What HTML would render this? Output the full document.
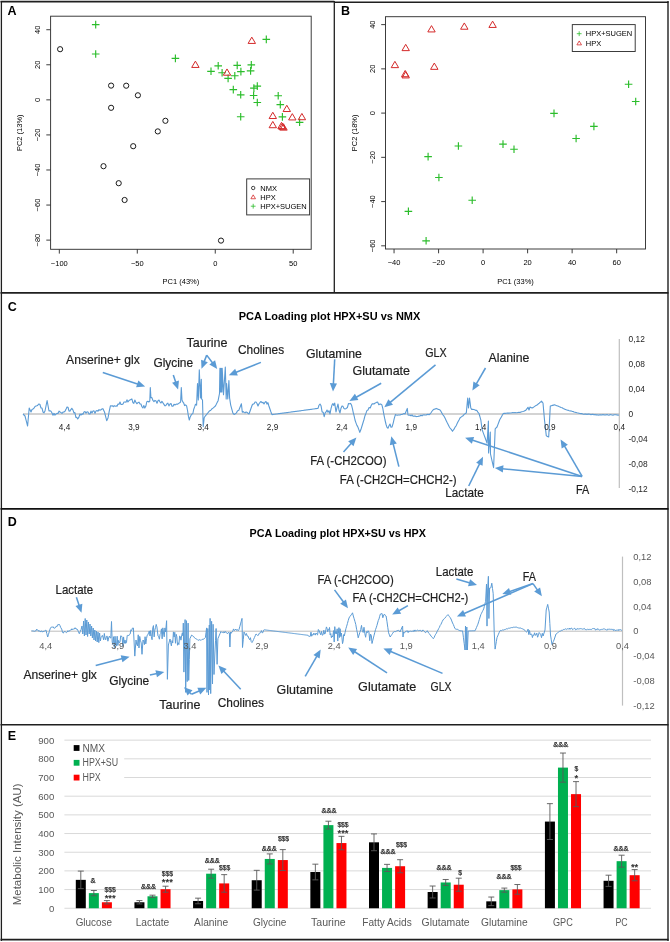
<!DOCTYPE html>
<html><head><meta charset="utf-8"><title>Figure</title>
<style>html,body{margin:0;padding:0;background:#fff;}svg{display:block;}text{font-family:"Liberation Sans", Arial, sans-serif;}</style>
</head><body>
<svg width="670" height="942" viewBox="0 0 670 942">
<rect width="670" height="942" fill="#fff"/>
<line x1="0.50" y1="1.60" x2="334.30" y2="1.60" stroke="#1f1f1f" stroke-width="1.6"/>
<line x1="334.30" y1="2.20" x2="668.50" y2="2.20" stroke="#1f1f1f" stroke-width="1.6"/>
<line x1="1.40" y1="1.00" x2="1.40" y2="941.00" stroke="#1f1f1f" stroke-width="1.3"/>
<line x1="668.00" y1="1.00" x2="668.00" y2="941.00" stroke="#1f1f1f" stroke-width="1.4"/>
<line x1="0.50" y1="939.60" x2="668.50" y2="939.60" stroke="#1f1f1f" stroke-width="1.6"/>
<line x1="334.30" y1="1.00" x2="334.30" y2="293.00" stroke="#1f1f1f" stroke-width="1.3"/>
<line x1="0.50" y1="292.80" x2="668.50" y2="292.80" stroke="#1f1f1f" stroke-width="1.7"/>
<line x1="0.50" y1="508.80" x2="668.50" y2="508.80" stroke="#111" stroke-width="1.8"/>
<line x1="0.50" y1="724.80" x2="668.50" y2="724.80" stroke="#1f1f1f" stroke-width="1.5"/>
<text x="7.60" y="15.20" font-size="12.5" fill="#000" font-weight="bold">A</text>
<text x="341.00" y="15.00" font-size="12.5" fill="#000" font-weight="bold">B</text>
<text x="7.80" y="311.00" font-size="12.5" fill="#000" font-weight="bold">C</text>
<text x="7.80" y="526.30" font-size="12.5" fill="#000" font-weight="bold">D</text>
<text x="7.80" y="740.00" font-size="12.5" fill="#000" font-weight="bold">E</text>
<rect x="50.6" y="16.2" width="260.59999999999997" height="233.10000000000002" fill="none" stroke="#333" stroke-width="0.95"/>
<line x1="59.32" y1="249.30" x2="59.32" y2="253.60" stroke="#333" stroke-width="0.95"/>
<text x="59.32" y="265.60" font-size="7.5" fill="#000" text-anchor="middle">−100</text>
<line x1="137.29" y1="249.30" x2="137.29" y2="253.60" stroke="#333" stroke-width="0.95"/>
<text x="137.29" y="265.60" font-size="7.5" fill="#000" text-anchor="middle">−50</text>
<line x1="215.25" y1="249.30" x2="215.25" y2="253.60" stroke="#333" stroke-width="0.95"/>
<text x="215.25" y="265.60" font-size="7.5" fill="#000" text-anchor="middle">0</text>
<line x1="293.21" y1="249.30" x2="293.21" y2="253.60" stroke="#333" stroke-width="0.95"/>
<text x="293.21" y="265.60" font-size="7.5" fill="#000" text-anchor="middle">50</text>
<line x1="46.30" y1="29.72" x2="50.60" y2="29.72" stroke="#333" stroke-width="0.95"/>
<text x="40.00" y="29.72" font-size="7.5" fill="#000" text-anchor="middle" transform="rotate(-90 40.00 29.72)">40</text>
<line x1="46.30" y1="64.78" x2="50.60" y2="64.78" stroke="#333" stroke-width="0.95"/>
<text x="40.00" y="64.78" font-size="7.5" fill="#000" text-anchor="middle" transform="rotate(-90 40.00 64.78)">20</text>
<line x1="46.30" y1="99.85" x2="50.60" y2="99.85" stroke="#333" stroke-width="0.95"/>
<text x="40.00" y="99.85" font-size="7.5" fill="#000" text-anchor="middle" transform="rotate(-90 40.00 99.85)">0</text>
<line x1="46.30" y1="134.92" x2="50.60" y2="134.92" stroke="#333" stroke-width="0.95"/>
<text x="40.00" y="134.92" font-size="7.5" fill="#000" text-anchor="middle" transform="rotate(-90 40.00 134.92)">−20</text>
<line x1="46.30" y1="169.98" x2="50.60" y2="169.98" stroke="#333" stroke-width="0.95"/>
<text x="40.00" y="169.98" font-size="7.5" fill="#000" text-anchor="middle" transform="rotate(-90 40.00 169.98)">−40</text>
<line x1="46.30" y1="205.05" x2="50.60" y2="205.05" stroke="#333" stroke-width="0.95"/>
<text x="40.00" y="205.05" font-size="7.5" fill="#000" text-anchor="middle" transform="rotate(-90 40.00 205.05)">−60</text>
<line x1="46.30" y1="240.11" x2="50.60" y2="240.11" stroke="#333" stroke-width="0.95"/>
<text x="40.00" y="240.11" font-size="7.5" fill="#000" text-anchor="middle" transform="rotate(-90 40.00 240.11)">−80</text>
<text x="180.90" y="283.90" font-size="7.5" fill="#000" text-anchor="middle">PC1 (43%)</text>
<text x="21.80" y="132.75" font-size="7.5" fill="#000" text-anchor="middle" transform="rotate(-90 21.80 132.75)">PC2 (13%)</text>
<circle cx="60.10" cy="49.20" r="2.6" fill="none" stroke="#1a1a1a" stroke-width="1.0"/>
<circle cx="111.10" cy="85.60" r="2.6" fill="none" stroke="#1a1a1a" stroke-width="1.0"/>
<circle cx="126.20" cy="85.70" r="2.6" fill="none" stroke="#1a1a1a" stroke-width="1.0"/>
<circle cx="137.90" cy="95.30" r="2.6" fill="none" stroke="#1a1a1a" stroke-width="1.0"/>
<circle cx="111.10" cy="107.80" r="2.6" fill="none" stroke="#1a1a1a" stroke-width="1.0"/>
<circle cx="165.40" cy="120.80" r="2.6" fill="none" stroke="#1a1a1a" stroke-width="1.0"/>
<circle cx="157.80" cy="131.40" r="2.6" fill="none" stroke="#1a1a1a" stroke-width="1.0"/>
<circle cx="133.20" cy="146.20" r="2.6" fill="none" stroke="#1a1a1a" stroke-width="1.0"/>
<circle cx="103.50" cy="166.20" r="2.6" fill="none" stroke="#1a1a1a" stroke-width="1.0"/>
<circle cx="118.70" cy="183.20" r="2.6" fill="none" stroke="#1a1a1a" stroke-width="1.0"/>
<circle cx="124.60" cy="200.00" r="2.6" fill="none" stroke="#1a1a1a" stroke-width="1.0"/>
<circle cx="221.00" cy="240.60" r="2.6" fill="none" stroke="#1a1a1a" stroke-width="1.0"/>
<path d="M91.90 24.60H99.50M95.70 20.80V28.40" stroke="#2bbd2b" stroke-width="1.15" fill="none"/>
<path d="M91.90 54.00H99.50M95.70 50.20V57.80" stroke="#2bbd2b" stroke-width="1.15" fill="none"/>
<path d="M171.60 58.40H179.20M175.40 54.60V62.20" stroke="#2bbd2b" stroke-width="1.15" fill="none"/>
<path d="M262.50 39.40H270.10M266.30 35.60V43.20" stroke="#2bbd2b" stroke-width="1.15" fill="none"/>
<path d="M207.20 71.30H214.80M211.00 67.50V75.10" stroke="#2bbd2b" stroke-width="1.15" fill="none"/>
<path d="M214.40 65.80H222.00M218.20 62.00V69.60" stroke="#2bbd2b" stroke-width="1.15" fill="none"/>
<path d="M218.30 72.70H225.90M222.10 68.90V76.50" stroke="#2bbd2b" stroke-width="1.15" fill="none"/>
<path d="M224.30 78.40H231.90M228.10 74.60V82.20" stroke="#2bbd2b" stroke-width="1.15" fill="none"/>
<path d="M231.00 75.70H238.60M234.80 71.90V79.50" stroke="#2bbd2b" stroke-width="1.15" fill="none"/>
<path d="M233.40 65.40H241.00M237.20 61.60V69.20" stroke="#2bbd2b" stroke-width="1.15" fill="none"/>
<path d="M237.10 71.60H244.70M240.90 67.80V75.40" stroke="#2bbd2b" stroke-width="1.15" fill="none"/>
<path d="M247.50 64.90H255.10M251.30 61.10V68.70" stroke="#2bbd2b" stroke-width="1.15" fill="none"/>
<path d="M246.80 70.90H254.40M250.60 67.10V74.70" stroke="#2bbd2b" stroke-width="1.15" fill="none"/>
<path d="M229.50 89.60H237.10M233.30 85.80V93.40" stroke="#2bbd2b" stroke-width="1.15" fill="none"/>
<path d="M236.90 94.80H244.50M240.70 91.00V98.60" stroke="#2bbd2b" stroke-width="1.15" fill="none"/>
<path d="M253.50 86.10H261.10M257.30 82.30V89.90" stroke="#2bbd2b" stroke-width="1.15" fill="none"/>
<path d="M250.10 88.10H257.70M253.90 84.30V91.90" stroke="#2bbd2b" stroke-width="1.15" fill="none"/>
<path d="M249.80 95.50H257.40M253.60 91.70V99.30" stroke="#2bbd2b" stroke-width="1.15" fill="none"/>
<path d="M253.50 102.50H261.10M257.30 98.70V106.30" stroke="#2bbd2b" stroke-width="1.15" fill="none"/>
<path d="M236.90 116.70H244.50M240.70 112.90V120.50" stroke="#2bbd2b" stroke-width="1.15" fill="none"/>
<path d="M274.40 95.70H282.00M278.20 91.90V99.50" stroke="#2bbd2b" stroke-width="1.15" fill="none"/>
<path d="M276.50 104.60H284.10M280.30 100.80V108.40" stroke="#2bbd2b" stroke-width="1.15" fill="none"/>
<path d="M278.60 116.90H286.20M282.40 113.10V120.70" stroke="#2bbd2b" stroke-width="1.15" fill="none"/>
<path d="M295.80 122.30H303.40M299.60 118.50V126.10" stroke="#2bbd2b" stroke-width="1.15" fill="none"/>
<polygon points="251.80,37.14 248.10,43.43 255.50,43.43" fill="none" stroke="#d42a2a" stroke-width="1.0" stroke-linejoin="miter"/>
<polygon points="195.40,61.14 191.70,67.43 199.10,67.43" fill="none" stroke="#d42a2a" stroke-width="1.0" stroke-linejoin="miter"/>
<polygon points="227.00,68.94 223.30,75.23 230.70,75.23" fill="none" stroke="#d42a2a" stroke-width="1.0" stroke-linejoin="miter"/>
<polygon points="286.80,105.24 283.10,111.53 290.50,111.53" fill="none" stroke="#d42a2a" stroke-width="1.0" stroke-linejoin="miter"/>
<polygon points="272.80,112.24 269.10,118.53 276.50,118.53" fill="none" stroke="#d42a2a" stroke-width="1.0" stroke-linejoin="miter"/>
<polygon points="292.30,113.64 288.60,119.93 296.00,119.93" fill="none" stroke="#d42a2a" stroke-width="1.0" stroke-linejoin="miter"/>
<polygon points="301.90,113.44 298.20,119.73 305.60,119.73" fill="none" stroke="#d42a2a" stroke-width="1.0" stroke-linejoin="miter"/>
<polygon points="272.80,121.44 269.10,127.73 276.50,127.73" fill="none" stroke="#d42a2a" stroke-width="1.0" stroke-linejoin="miter"/>
<polygon points="281.50,122.34 277.80,128.63 285.20,128.63" fill="none" stroke="#d42a2a" stroke-width="1.0" stroke-linejoin="miter"/>
<polygon points="282.50,123.04 278.80,129.33 286.20,129.33" fill="none" stroke="#d42a2a" stroke-width="1.0" stroke-linejoin="miter"/>
<polygon points="283.50,123.84 279.80,130.13 287.20,130.13" fill="none" stroke="#d42a2a" stroke-width="1.0" stroke-linejoin="miter"/>
<rect x="246.7" y="178.9" width="62.9" height="36.0" fill="#fff" stroke="#333" stroke-width="0.95"/>
<circle cx="253.20" cy="188.00" r="1.7" fill="none" stroke="#1a1a1a" stroke-width="0.8"/>
<polygon points="253.20,194.85 250.90,198.76 255.50,198.76" fill="none" stroke="#d42a2a" stroke-width="0.8" stroke-linejoin="miter"/>
<path d="M250.80 206.20H255.60M253.20 203.80V208.60" stroke="#2bbd2b" stroke-width="0.8" fill="none"/>
<text x="260.30" y="190.50" font-size="7.5" fill="#000">NMX</text>
<text x="260.30" y="199.50" font-size="7.5" fill="#000">HPX</text>
<text x="260.30" y="208.70" font-size="7.5" fill="#000">HPX+SUGEN</text>
<rect x="385.5" y="16.7" width="260.0" height="232.3" fill="none" stroke="#333" stroke-width="0.95"/>
<line x1="394.06" y1="249.00" x2="394.06" y2="253.30" stroke="#333" stroke-width="0.95"/>
<text x="394.06" y="265.30" font-size="7.5" fill="#000" text-anchor="middle">−40</text>
<line x1="438.58" y1="249.00" x2="438.58" y2="253.30" stroke="#333" stroke-width="0.95"/>
<text x="438.58" y="265.30" font-size="7.5" fill="#000" text-anchor="middle">−20</text>
<line x1="483.10" y1="249.00" x2="483.10" y2="253.30" stroke="#333" stroke-width="0.95"/>
<text x="483.10" y="265.30" font-size="7.5" fill="#000" text-anchor="middle">0</text>
<line x1="527.62" y1="249.00" x2="527.62" y2="253.30" stroke="#333" stroke-width="0.95"/>
<text x="527.62" y="265.30" font-size="7.5" fill="#000" text-anchor="middle">20</text>
<line x1="572.14" y1="249.00" x2="572.14" y2="253.30" stroke="#333" stroke-width="0.95"/>
<text x="572.14" y="265.30" font-size="7.5" fill="#000" text-anchor="middle">40</text>
<line x1="616.66" y1="249.00" x2="616.66" y2="253.30" stroke="#333" stroke-width="0.95"/>
<text x="616.66" y="265.30" font-size="7.5" fill="#000" text-anchor="middle">60</text>
<line x1="381.20" y1="24.62" x2="385.50" y2="24.62" stroke="#333" stroke-width="0.95"/>
<text x="374.90" y="24.62" font-size="7.5" fill="#000" text-anchor="middle" transform="rotate(-90 374.90 24.62)">40</text>
<line x1="381.20" y1="68.86" x2="385.50" y2="68.86" stroke="#333" stroke-width="0.95"/>
<text x="374.90" y="68.86" font-size="7.5" fill="#000" text-anchor="middle" transform="rotate(-90 374.90 68.86)">20</text>
<line x1="381.20" y1="113.10" x2="385.50" y2="113.10" stroke="#333" stroke-width="0.95"/>
<text x="374.90" y="113.10" font-size="7.5" fill="#000" text-anchor="middle" transform="rotate(-90 374.90 113.10)">0</text>
<line x1="381.20" y1="157.34" x2="385.50" y2="157.34" stroke="#333" stroke-width="0.95"/>
<text x="374.90" y="157.34" font-size="7.5" fill="#000" text-anchor="middle" transform="rotate(-90 374.90 157.34)">−20</text>
<line x1="381.20" y1="201.58" x2="385.50" y2="201.58" stroke="#333" stroke-width="0.95"/>
<text x="374.90" y="201.58" font-size="7.5" fill="#000" text-anchor="middle" transform="rotate(-90 374.90 201.58)">−40</text>
<line x1="381.20" y1="245.82" x2="385.50" y2="245.82" stroke="#333" stroke-width="0.95"/>
<text x="374.90" y="245.82" font-size="7.5" fill="#000" text-anchor="middle" transform="rotate(-90 374.90 245.82)">−60</text>
<text x="515.50" y="283.90" font-size="7.5" fill="#000" text-anchor="middle">PC1 (33%)</text>
<text x="357.20" y="132.85" font-size="7.5" fill="#000" text-anchor="middle" transform="rotate(-90 357.20 132.85)">PC2 (18%)</text>
<polygon points="394.90,61.34 391.20,67.63 398.60,67.63" fill="none" stroke="#d42a2a" stroke-width="1.0" stroke-linejoin="miter"/>
<polygon points="405.70,44.34 402.00,50.63 409.40,50.63" fill="none" stroke="#d42a2a" stroke-width="1.0" stroke-linejoin="miter"/>
<polygon points="405.70,71.64 402.00,77.93 409.40,77.93" fill="none" stroke="#d42a2a" stroke-width="1.0" stroke-linejoin="miter"/>
<polygon points="405.20,70.44 401.50,76.73 408.90,76.73" fill="none" stroke="#d42a2a" stroke-width="1.0" stroke-linejoin="miter"/>
<polygon points="431.50,25.64 427.80,31.93 435.20,31.93" fill="none" stroke="#d42a2a" stroke-width="1.0" stroke-linejoin="miter"/>
<polygon points="434.30,63.04 430.60,69.33 438.00,69.33" fill="none" stroke="#d42a2a" stroke-width="1.0" stroke-linejoin="miter"/>
<polygon points="464.30,22.94 460.60,29.23 468.00,29.23" fill="none" stroke="#d42a2a" stroke-width="1.0" stroke-linejoin="miter"/>
<polygon points="492.60,21.14 488.90,27.43 496.30,27.43" fill="none" stroke="#d42a2a" stroke-width="1.0" stroke-linejoin="miter"/>
<path d="M424.30 156.60H431.90M428.10 152.80V160.40" stroke="#2bbd2b" stroke-width="1.15" fill="none"/>
<path d="M435.10 177.50H442.70M438.90 173.70V181.30" stroke="#2bbd2b" stroke-width="1.15" fill="none"/>
<path d="M454.60 146.00H462.20M458.40 142.20V149.80" stroke="#2bbd2b" stroke-width="1.15" fill="none"/>
<path d="M468.40 200.20H476.00M472.20 196.40V204.00" stroke="#2bbd2b" stroke-width="1.15" fill="none"/>
<path d="M404.60 211.30H412.20M408.40 207.50V215.10" stroke="#2bbd2b" stroke-width="1.15" fill="none"/>
<path d="M422.30 240.80H429.90M426.10 237.00V244.60" stroke="#2bbd2b" stroke-width="1.15" fill="none"/>
<path d="M499.20 144.10H506.80M503.00 140.30V147.90" stroke="#2bbd2b" stroke-width="1.15" fill="none"/>
<path d="M510.20 149.20H517.80M514.00 145.40V153.00" stroke="#2bbd2b" stroke-width="1.15" fill="none"/>
<path d="M550.20 113.40H557.80M554.00 109.60V117.20" stroke="#2bbd2b" stroke-width="1.15" fill="none"/>
<path d="M572.30 138.50H579.90M576.10 134.70V142.30" stroke="#2bbd2b" stroke-width="1.15" fill="none"/>
<path d="M590.10 126.40H597.70M593.90 122.60V130.20" stroke="#2bbd2b" stroke-width="1.15" fill="none"/>
<path d="M624.80 84.20H632.40M628.60 80.40V88.00" stroke="#2bbd2b" stroke-width="1.15" fill="none"/>
<path d="M631.90 101.50H639.50M635.70 97.70V105.30" stroke="#2bbd2b" stroke-width="1.15" fill="none"/>
<rect x="572.3" y="24.6" width="62.9" height="26.9" fill="#fff" stroke="#333" stroke-width="0.95"/>
<path d="M576.80 33.70H581.60M579.20 31.30V36.10" stroke="#2bbd2b" stroke-width="0.8" fill="none"/>
<polygon points="579.20,40.95 576.90,44.86 581.50,44.86" fill="none" stroke="#d42a2a" stroke-width="0.8" stroke-linejoin="miter"/>
<text x="585.80" y="36.30" font-size="7.5" fill="#000">HPX+SUGEN</text>
<text x="585.80" y="45.60" font-size="7.5" fill="#000">HPX</text>
<text x="238.70" y="320.30" font-size="11" fill="#000" font-weight="bold" textLength="181.60" lengthAdjust="spacingAndGlyphs">PCA Loading plot HPX+SU vs NMX</text>
<line x1="23.00" y1="413.90" x2="619.30" y2="413.90" stroke="#c4c4c4" stroke-width="1.5"/>
<line x1="619.30" y1="339.00" x2="619.30" y2="488.00" stroke="#bfbfbf" stroke-width="1.2"/>
<text x="628.50" y="342.10" font-size="8.4" fill="#262626">0,12</text>
<text x="628.50" y="367.02" font-size="8.4" fill="#262626">0,08</text>
<text x="628.50" y="391.94" font-size="8.4" fill="#262626">0,04</text>
<text x="628.50" y="416.86" font-size="8.4" fill="#262626">0</text>
<text x="628.50" y="441.78" font-size="8.4" fill="#262626">-0,04</text>
<text x="628.50" y="466.70" font-size="8.4" fill="#262626">-0,08</text>
<text x="628.50" y="491.62" font-size="8.4" fill="#262626">-0,12</text>
<polyline points="23.00,414.00 24.00,415.00 25.00,416.00 25.87,419.33 26.73,422.67 27.60,426.00 28.40,417.00 29.20,408.00 30.10,410.00 31.00,412.00 32.00,409.45 33.00,409.00 34.00,408.18 35.00,406.48 36.00,406.00 36.90,405.75 37.80,405.17 38.70,404.00 39.85,404.26 41.00,408.00 42.00,408.05 43.00,412.00 44.00,412.85 45.00,411.00 46.05,405.75 47.10,400.50 48.05,405.75 49.00,411.00 50.00,410.70 51.00,411.27 52.00,413.00 53.00,415.23 54.00,413.38 55.00,415.10 56.00,414.00 57.00,413.41 58.00,413.56 59.00,411.10 60.00,412.00 61.00,412.54 62.00,413.47 63.00,412.09 64.00,412.00 65.00,411.30 66.00,409.35 67.00,407.00 68.00,407.26 69.00,411.00 69.93,411.13 70.87,409.56 71.80,408.30 72.90,409.86 74.00,413.00 74.92,412.62 75.85,417.46 76.78,417.39 77.70,419.00 78.85,417.38 80.00,414.00 81.00,415.02 82.00,413.86 83.00,414.18 84.00,412.00 85.00,411.58 86.00,413.20 87.00,411.78 88.00,412.00 89.00,413.99 90.00,414.02 91.00,411.14 92.00,413.00 93.00,411.04 94.00,410.87 95.00,413.36 96.00,411.00 97.00,410.57 98.00,411.16 99.00,409.68 100.00,410.30 101.00,409.83 102.00,408.84 103.00,408.80 103.75,410.40 104.50,412.00 105.60,416.35 106.70,420.70 108.00,418.00 109.20,411.30 110.40,405.80 111.35,405.92 112.30,405.69 113.25,406.74 114.20,405.63 115.15,406.39 116.10,405.88 117.05,406.19 118.00,404.00 119.00,404.35 120.00,401.99 121.00,404.44 122.00,404.53 123.00,403.95 124.00,402.00 124.98,401.94 125.97,402.19 126.95,399.84 127.93,401.99 128.92,400.63 129.90,400.00 130.88,399.49 131.87,398.95 132.85,402.47 133.83,403.36 134.82,400.10 135.80,402.10 136.85,403.78 137.90,402.69 138.95,402.13 140.00,404.00 140.96,404.00 141.92,406.72 142.88,407.95 143.84,405.46 144.80,408.10 145.80,406.29 146.80,401.75 147.80,401.30 148.80,402.02 149.80,401.00 150.30,387.60 150.90,397.60 151.92,397.60 152.94,400.48 153.96,401.56 154.98,400.34 156.00,401.00 157.00,403.24 158.00,400.74 159.00,400.06 160.00,402.00 160.95,403.03 161.90,401.39 162.85,402.69 163.80,404.17 164.75,405.61 165.70,405.80 166.77,403.97 167.85,403.07 168.93,405.92 170.00,404.00 171.00,403.46 172.00,406.23 173.00,406.19 174.00,404.31 175.00,405.00 175.93,404.34 176.87,404.08 177.80,404.08 178.73,403.38 179.67,402.74 180.60,402.00 181.30,387.60 182.00,400.00 182.80,401.88 183.60,402.80 184.60,405.56 185.60,404.83 186.60,405.80 187.50,410.26 188.40,416.15 189.30,420.00 190.20,416.95 191.10,415.20 192.00,414.00 192.88,413.49 193.75,409.23 194.62,406.92 195.50,404.30 196.60,405.10 197.50,383.60 198.30,400.00 199.30,369.80 200.40,398.00 201.30,379.20 201.60,398.90 202.50,400.00 203.20,426.60 204.20,417.70 205.22,416.06 206.25,414.95 207.28,413.70 208.30,412.30 209.31,411.11 210.33,410.57 211.34,409.68 212.36,408.44 213.37,407.88 214.39,406.88 215.40,406.00 216.30,404.34 217.20,402.38 218.10,400.70 219.50,393.50 219.90,368.40 220.30,392.00 220.70,368.40 221.10,392.00 221.50,368.40 221.90,392.00 222.20,368.40 223.50,394.80 224.40,380.95 225.30,367.10 226.20,398.90 226.60,383.60 227.80,398.90 228.90,380.50 229.60,398.00 230.70,405.10 231.80,409.15 232.90,413.20 234.20,414.50 235.32,413.83 236.45,412.88 237.57,410.74 238.70,410.50 239.60,408.27 240.50,406.03 241.40,403.80 242.30,412.30 243.23,411.52 244.15,412.43 245.07,412.82 246.00,412.00 247.00,412.27 248.00,413.26 249.00,414.00 250.07,411.00 251.13,408.00 252.20,405.00 253.20,404.00 254.13,403.70 255.07,401.95 256.00,402.00 257.00,403.46 258.00,406.00 259.00,403.75 260.00,402.48 261.00,401.50 262.00,402.72 263.00,402.37 264.00,404.00 265.00,402.26 266.00,401.50 266.97,404.09 267.93,402.61 268.90,406.00 269.93,408.95 270.97,412.02 272.00,414.60 273.00,414.47 274.00,414.33 275.00,414.20 276.00,414.06 277.00,413.93 278.00,413.79 279.00,413.66 280.00,413.52 281.00,413.39 282.00,413.25 283.00,413.12 284.00,412.98 285.00,412.85 286.00,412.71 287.00,412.58 288.00,412.44 289.00,412.31 290.00,412.17 291.00,412.04 292.00,411.90 293.00,411.77 294.00,411.63 295.00,411.50 296.00,411.37 297.00,411.23 298.00,411.10 299.00,410.96 300.00,410.83 301.00,410.69 302.00,410.56 303.00,410.42 304.00,410.29 305.00,410.15 306.00,410.02 307.00,409.88 308.00,409.75 309.00,409.61 310.00,409.48 311.00,409.34 312.00,409.21 313.00,409.07 314.00,408.94 315.00,408.80 316.00,408.67 317.00,408.53 318.00,408.40 319.00,405.25 320.00,404.00 321.05,405.79 322.10,411.87 323.15,412.22 324.20,416.70 325.13,412.90 326.07,411.91 327.00,410.00 328.00,412.32 329.00,410.68 330.00,414.00 331.00,408.61 332.00,405.00 332.90,403.54 333.80,405.40 334.70,403.10 336.00,412.00 337.00,407.69 338.00,404.00 339.00,410.28 340.00,413.00 341.00,408.18 342.00,406.00 343.00,406.35 344.00,408.60 345.00,409.00 346.30,408.40 347.40,407.49 348.50,403.50 349.50,403.80 350.50,403.40 351.50,405.00 352.38,408.30 353.25,412.54 354.12,415.88 355.00,420.00 355.96,422.85 356.92,425.37 357.88,427.06 358.84,429.65 359.80,432.40 360.90,429.57 362.00,426.00 363.00,422.74 364.00,419.50 365.00,415.70 366.00,413.18 367.00,410.42 368.00,410.00 369.10,407.57 370.20,407.98 371.30,405.20 372.20,403.88 373.10,403.79 374.00,404.00 374.90,403.19 375.80,402.73 376.70,402.21 377.60,402.10 378.80,404.73 380.00,404.00 380.93,404.09 381.87,404.95 382.80,408.40 383.90,414.73 385.00,420.00 386.00,424.25 387.00,427.41 388.00,428.20 389.00,425.84 390.00,424.00 391.00,427.30 392.00,427.00 393.13,423.29 394.27,418.46 395.40,414.60 396.32,415.02 397.24,415.23 398.16,415.07 399.08,414.95 400.00,415.00 401.00,414.50 402.00,414.38 403.00,414.02 404.00,413.60 405.00,414.00 406.15,411.20 407.30,408.40 408.00,415.00 409.00,415.27 410.00,414.99 411.00,415.86 412.00,414.93 413.00,416.28 414.00,416.13 415.00,416.00 416.00,416.59 417.00,416.56 418.00,416.56 419.00,416.11 420.00,416.00 421.00,415.12 422.00,415.94 423.00,414.94 424.00,414.92 425.00,415.00 426.00,415.03 427.00,414.63 428.00,414.28 429.00,414.81 430.00,414.00 431.00,412.73 432.00,411.24 433.00,410.00 434.03,409.32 435.07,409.15 436.10,408.40 437.08,408.79 438.05,409.37 439.02,409.51 440.00,410.00 441.00,411.42 442.00,413.22 443.00,414.99 444.00,416.20 445.00,418.00 446.00,420.18 447.00,422.25 448.00,424.18 449.00,426.19 450.00,428.00 451.25,429.35 452.50,431.30 453.38,430.05 454.25,428.87 455.12,427.05 456.00,426.00 457.00,423.86 458.00,421.86 459.00,420.02 460.00,418.00 461.05,417.12 462.10,416.32 463.15,415.67 464.20,414.37 465.25,413.57 466.30,413.00 467.70,398.00 468.50,408.00 469.50,398.00 470.80,408.00 471.70,409.40 472.70,409.36 473.70,409.53 474.70,409.68 475.70,410.40 476.70,410.30 477.85,412.11 479.00,413.50 479.90,416.65 480.80,419.80 482.10,429.70 483.10,432.40 484.10,435.10 485.10,437.80 486.10,440.50 487.10,443.20 488.40,421.00 488.60,453.00 489.45,442.50 490.30,432.00 490.50,454.00 491.53,458.53 492.57,463.07 493.60,467.60 494.40,448.20 495.20,428.80 496.10,427.90 497.00,427.00 497.90,424.60 498.80,422.20 499.70,419.80 500.60,418.23 501.50,416.65 502.40,415.07 503.30,413.50 504.26,413.18 505.21,413.36 506.17,413.18 507.13,413.10 508.09,413.05 509.04,413.16 510.00,413.00 511.00,413.00 512.00,412.82 513.00,412.66 514.00,412.70 515.00,412.52 516.00,412.73 517.00,412.78 518.00,412.53 519.00,412.30 520.00,412.50 520.95,411.96 521.90,411.72 522.85,411.51 523.80,411.27 524.75,410.68 525.70,410.40 526.85,408.85 528.00,407.30 529.00,410.00 530.00,407.00 531.00,407.50 532.00,408.00 533.00,407.64 534.00,406.90 535.00,406.15 536.00,405.50 537.00,405.00 538.12,404.05 539.25,403.22 540.38,402.10 541.50,401.20 542.25,402.10 543.00,403.00 543.75,411.50 544.50,420.00 545.40,427.90 546.30,435.80 547.50,436.40 548.70,437.00 549.50,421.50 550.30,406.00 551.38,405.70 552.45,405.40 553.52,405.10 554.60,404.80 555.68,405.32 556.76,405.66 557.84,406.02 558.92,406.57 560.00,407.00 561.08,407.56 562.16,407.79 563.24,408.41 564.32,408.89 565.40,409.40 566.36,409.83 567.32,410.13 568.28,410.19 569.24,410.68 570.20,410.92 571.16,410.98 572.12,411.35 573.08,411.49 574.04,412.05 575.00,412.20 576.00,412.50 577.00,412.82 578.00,413.02 579.00,413.20 580.00,413.46 581.00,413.63 582.00,413.67 583.00,414.10 584.00,414.30 585.00,413.98 586.00,414.11 587.00,414.59 588.00,414.11 589.00,414.17 590.00,414.21 591.00,414.79 592.00,414.33 593.00,414.25 594.00,414.85 595.00,414.38 596.00,414.92 597.00,414.83 598.00,414.97 599.00,415.09 600.00,414.80 601.00,414.87 602.00,415.03 603.00,414.51 604.00,415.03 605.00,414.86 606.00,415.01 607.00,414.60 608.00,415.06 609.00,415.20 610.00,414.60 611.00,414.79 612.00,414.97 613.00,415.17 614.00,414.77 615.00,414.73 616.00,414.79 617.00,415.06 618.00,415.17 619.00,415.00" fill="none" stroke="#5b9bd5" stroke-width="1.1" stroke-linejoin="round"/>
<text x="64.50" y="429.60" font-size="8.2" fill="#1a1a1a" text-anchor="middle">4,4</text>
<text x="133.85" y="429.60" font-size="8.2" fill="#1a1a1a" text-anchor="middle">3,9</text>
<text x="203.20" y="429.60" font-size="8.2" fill="#1a1a1a" text-anchor="middle">3,4</text>
<text x="272.55" y="429.60" font-size="8.2" fill="#1a1a1a" text-anchor="middle">2,9</text>
<text x="341.90" y="429.60" font-size="8.2" fill="#1a1a1a" text-anchor="middle">2,4</text>
<text x="411.25" y="429.60" font-size="8.2" fill="#1a1a1a" text-anchor="middle">1,9</text>
<text x="480.60" y="429.60" font-size="8.2" fill="#1a1a1a" text-anchor="middle">1,4</text>
<text x="549.95" y="429.60" font-size="8.2" fill="#1a1a1a" text-anchor="middle">0,9</text>
<text x="619.30" y="429.60" font-size="8.2" fill="#1a1a1a" text-anchor="middle">0,4</text>
<text x="66.10" y="364.00" font-size="12.1" fill="#1e1e1e" textLength="73.60" lengthAdjust="spacingAndGlyphs" stroke="#1e1e1e" stroke-width="0.2">Anserine+ glx</text>
<text x="153.40" y="366.60" font-size="12.1" fill="#1e1e1e" textLength="39.70" lengthAdjust="spacingAndGlyphs" stroke="#1e1e1e" stroke-width="0.2">Glycine</text>
<text x="186.40" y="346.70" font-size="12.1" fill="#1e1e1e" textLength="41.20" lengthAdjust="spacingAndGlyphs" stroke="#1e1e1e" stroke-width="0.2">Taurine</text>
<text x="238.00" y="353.60" font-size="12.1" fill="#1e1e1e" textLength="46.10" lengthAdjust="spacingAndGlyphs" stroke="#1e1e1e" stroke-width="0.2">Cholines</text>
<text x="305.90" y="357.80" font-size="12.1" fill="#1e1e1e" textLength="56.00" lengthAdjust="spacingAndGlyphs" stroke="#1e1e1e" stroke-width="0.2">Glutamine</text>
<text x="352.50" y="374.90" font-size="12.1" fill="#1e1e1e" textLength="57.50" lengthAdjust="spacingAndGlyphs" stroke="#1e1e1e" stroke-width="0.2">Glutamate</text>
<text x="425.20" y="356.70" font-size="12.1" fill="#1e1e1e" textLength="21.40" lengthAdjust="spacingAndGlyphs" stroke="#1e1e1e" stroke-width="0.2">GLX</text>
<text x="488.50" y="362.00" font-size="12.1" fill="#1e1e1e" textLength="40.90" lengthAdjust="spacingAndGlyphs" stroke="#1e1e1e" stroke-width="0.2">Alanine</text>
<text x="310.20" y="465.30" font-size="12.1" fill="#1e1e1e" textLength="76.30" lengthAdjust="spacingAndGlyphs" stroke="#1e1e1e" stroke-width="0.2">FA (-CH2COO)</text>
<text x="339.80" y="483.80" font-size="12.1" fill="#1e1e1e" textLength="116.80" lengthAdjust="spacingAndGlyphs" stroke="#1e1e1e" stroke-width="0.2">FA (-CH2CH=CHCH2-)</text>
<text x="445.30" y="497.20" font-size="12.1" fill="#1e1e1e" textLength="38.40" lengthAdjust="spacingAndGlyphs" stroke="#1e1e1e" stroke-width="0.2">Lactate</text>
<text x="576.10" y="493.60" font-size="12.1" fill="#1e1e1e" textLength="13.20" lengthAdjust="spacingAndGlyphs" stroke="#1e1e1e" stroke-width="0.2">FA</text>
<line x1="102.80" y1="372.40" x2="138.18" y2="384.28" stroke="#5b9bd5" stroke-width="1.55"/>
<polygon points="145.10,386.60 136.09,387.37 138.38,380.55" fill="#5b9bd5"/>
<line x1="173.30" y1="374.90" x2="175.82" y2="382.57" stroke="#5b9bd5" stroke-width="1.55"/>
<polygon points="178.10,389.50 172.09,382.74 178.93,380.49" fill="#5b9bd5"/>
<line x1="206.70" y1="355.10" x2="204.11" y2="361.88" stroke="#5b9bd5" stroke-width="1.55"/>
<polygon points="201.50,368.70 201.10,359.66 207.83,362.23" fill="#5b9bd5"/>
<line x1="206.70" y1="355.10" x2="212.82" y2="363.26" stroke="#5b9bd5" stroke-width="1.55"/>
<polygon points="217.20,369.10 209.34,364.62 215.10,360.30" fill="#5b9bd5"/>
<line x1="260.90" y1="362.40" x2="235.57" y2="372.58" stroke="#5b9bd5" stroke-width="1.55"/>
<polygon points="228.80,375.30 235.16,368.86 237.84,375.55" fill="#5b9bd5"/>
<line x1="334.70" y1="359.30" x2="333.38" y2="384.31" stroke="#5b9bd5" stroke-width="1.55"/>
<polygon points="333.00,391.60 329.84,383.12 337.03,383.50" fill="#5b9bd5"/>
<line x1="381.20" y1="383.30" x2="355.78" y2="397.45" stroke="#5b9bd5" stroke-width="1.55"/>
<polygon points="349.40,401.00 354.90,393.82 358.40,400.11" fill="#5b9bd5"/>
<line x1="435.50" y1="364.90" x2="389.92" y2="402.64" stroke="#5b9bd5" stroke-width="1.55"/>
<polygon points="384.30,407.30 388.40,399.23 392.99,404.78" fill="#5b9bd5"/>
<line x1="485.50" y1="368.00" x2="476.06" y2="384.28" stroke="#5b9bd5" stroke-width="1.55"/>
<polygon points="472.40,390.60 473.45,381.61 479.68,385.22" fill="#5b9bd5"/>
<line x1="343.50" y1="451.90" x2="351.51" y2="443.02" stroke="#5b9bd5" stroke-width="1.55"/>
<polygon points="356.40,437.60 353.51,446.17 348.17,441.35" fill="#5b9bd5"/>
<line x1="398.90" y1="466.60" x2="393.08" y2="443.38" stroke="#5b9bd5" stroke-width="1.55"/>
<polygon points="391.30,436.30 396.81,443.47 389.83,445.23" fill="#5b9bd5"/>
<line x1="468.70" y1="486.00" x2="479.79" y2="463.36" stroke="#5b9bd5" stroke-width="1.55"/>
<polygon points="483.00,456.80 482.58,465.84 476.12,462.67" fill="#5b9bd5"/>
<line x1="582.10" y1="476.40" x2="472.03" y2="439.99" stroke="#5b9bd5" stroke-width="1.55"/>
<polygon points="465.10,437.70 474.11,436.89 471.85,443.72" fill="#5b9bd5"/>
<line x1="582.10" y1="476.40" x2="502.17" y2="468.79" stroke="#5b9bd5" stroke-width="1.55"/>
<polygon points="494.90,468.10 503.50,465.30 502.82,472.47" fill="#5b9bd5"/>
<line x1="582.10" y1="476.40" x2="564.27" y2="445.71" stroke="#5b9bd5" stroke-width="1.55"/>
<polygon points="560.60,439.40 567.88,444.77 561.66,448.39" fill="#5b9bd5"/>
<text x="249.60" y="537.30" font-size="11" fill="#000" font-weight="bold" textLength="176.30" lengthAdjust="spacingAndGlyphs">PCA Loading plot HPX+SU vs HPX</text>
<line x1="31.00" y1="631.20" x2="622.50" y2="631.20" stroke="#bdbdbd" stroke-width="1.0"/>
<line x1="622.50" y1="556.60" x2="622.50" y2="705.60" stroke="#bfbfbf" stroke-width="1.2"/>
<text x="633.30" y="560.00" font-size="9.4" fill="#595959">0,12</text>
<text x="633.30" y="584.83" font-size="9.4" fill="#595959">0,08</text>
<text x="633.30" y="609.66" font-size="9.4" fill="#595959">0,04</text>
<text x="633.30" y="634.49" font-size="9.4" fill="#595959">0</text>
<text x="633.30" y="659.32" font-size="9.4" fill="#595959">-0,04</text>
<text x="633.30" y="684.15" font-size="9.4" fill="#595959">-0,08</text>
<text x="633.30" y="708.98" font-size="9.4" fill="#595959">-0,12</text>
<polyline points="31.60,630.70 32.31,630.87 33.02,631.03 33.73,631.06 34.44,631.27 35.16,630.79 35.87,631.08 36.58,629.21 37.29,630.01 38.00,630.00 38.67,631.22 39.33,630.96 40.00,631.00 40.75,632.05 41.50,630.73 42.25,631.69 43.00,632.00 43.73,630.99 44.45,631.09 45.17,630.65 45.90,630.00 46.80,633.50 47.70,637.00 48.50,634.30 49.30,631.60 50.10,628.90 50.90,627.33 51.70,627.13 52.50,627.10 53.23,626.81 53.95,628.23 54.67,628.08 55.40,627.70 56.12,626.30 56.84,626.85 57.56,624.82 58.28,625.05 59.00,624.10 59.90,625.45 60.80,627.70 61.70,629.10 62.60,632.50 63.35,633.09 64.10,631.62 64.85,631.48 65.60,631.90 66.40,632.56 67.20,632.04 68.00,630.58 68.80,631.62 69.60,630.48 70.40,630.10 71.18,630.06 71.97,628.71 72.75,629.78 73.53,628.88 74.32,629.03 75.10,627.70 76.00,629.09 76.90,628.90 77.70,630.10 78.50,631.82 79.30,633.70 80.20,631.60 81.10,629.50 82.00,626.00 82.80,634.00 83.60,621.00 84.40,636.00 85.20,618.50 86.00,635.00 86.80,620.00 87.60,636.50 88.40,622.00 89.20,634.00 90.00,624.00 90.80,636.00 91.60,626.00 92.40,638.00 93.20,628.00 94.00,640.00 94.80,630.00 95.60,641.00 96.40,631.00 97.20,642.00 98.00,632.00 98.80,642.60 99.60,633.00 100.40,641.00 101.06,637.23 101.71,636.60 102.37,635.37 103.03,637.30 103.69,639.89 104.34,633.46 105.00,638.00 105.72,639.78 106.45,636.38 107.17,636.10 107.90,641.19 108.62,637.81 109.35,636.16 110.08,637.81 110.80,638.00 111.50,621.50 112.20,642.00 112.91,644.46 113.62,636.68 114.33,647.70 115.04,636.27 115.75,645.00 116.45,646.14 117.16,636.22 117.87,645.45 118.58,640.39 119.29,642.94 120.00,642.00 120.71,635.82 121.43,635.99 122.14,637.31 122.86,646.32 123.57,636.93 124.29,643.35 125.00,640.00 125.73,643.40 126.47,642.62 127.20,635.74 127.93,634.95 128.67,635.75 129.40,634.60 130.15,634.08 130.90,629.78 131.65,630.72 132.40,628.10 133.40,628.00 134.10,642.05 134.80,656.10 135.40,648.05 136.00,640.00 136.74,644.59 137.49,645.89 138.23,634.80 138.97,647.96 139.71,636.42 140.46,640.34 141.20,643.00 142.00,654.30 143.00,640.00 143.70,641.04 144.40,644.64 145.10,636.72 145.80,643.91 146.50,638.59 147.20,635.16 147.90,634.82 148.60,632.61 149.30,630.92 150.00,636.00 150.69,630.53 151.38,636.64 152.07,639.73 152.76,627.96 153.45,625.58 154.14,636.87 154.83,630.07 155.52,627.50 156.21,624.40 156.90,626.90 158.00,636.00 158.69,636.76 159.38,639.19 160.07,634.38 160.76,633.61 161.45,628.85 162.15,638.81 162.84,627.85 163.53,633.01 164.22,636.79 164.91,627.93 165.60,632.00 166.60,620.70 167.40,679.30 168.40,645.00 169.20,642.00 170.00,639.00 170.68,642.55 171.37,645.88 172.05,640.61 172.74,642.98 173.42,631.92 174.11,637.01 174.79,632.28 175.47,643.25 176.16,634.30 176.84,636.67 177.53,645.25 178.21,642.74 178.89,644.56 179.58,636.05 180.26,636.44 180.95,640.15 181.63,635.98 182.32,632.81 183.00,636.00 183.30,623.10 183.90,672.10 184.50,645.85 185.10,619.60 185.70,692.40 186.50,620.70 187.20,681.60 188.10,623.10 188.70,680.40 189.30,659.55 189.90,638.70 190.75,636.90 191.60,635.10 192.33,635.61 193.07,635.99 193.80,636.77 194.53,637.85 195.27,638.41 196.00,638.73 196.73,639.22 197.47,639.68 198.20,640.40 199.00,639.72 199.80,639.76 200.60,640.19 201.40,640.11 202.20,639.32 203.00,639.30 203.80,639.04 204.60,638.43 205.40,637.50 206.00,632.70 206.60,627.90 207.00,692.40 207.80,628.50 208.50,695.00 209.30,625.00 209.70,690.00 210.10,618.40 210.70,693.60 211.60,621.30 212.50,684.00 213.10,624.30 214.00,674.50 214.90,653.00 215.50,640.75 216.10,628.50 217.10,664.30 217.90,638.70 218.65,636.90 219.40,635.10 220.15,633.30 220.90,631.50 221.67,632.34 222.45,632.36 223.22,632.84 223.99,631.55 224.76,632.92 225.54,631.53 226.31,632.40 227.08,633.56 227.85,633.41 228.63,632.12 229.40,633.00 229.90,647.00 230.50,632.00 231.25,633.27 232.00,631.87 232.75,631.29 233.50,628.91 234.25,630.50 235.00,630.00 235.80,629.00 236.60,630.42 237.40,629.57 238.20,630.74 239.00,629.50 239.75,626.73 240.50,623.95 241.25,621.17 242.00,618.40 242.50,647.50 243.25,639.75 244.00,632.00 244.80,633.68 245.60,635.39 246.40,633.49 247.20,636.06 248.00,636.00 248.80,638.29 249.60,639.70 250.40,637.70 251.20,641.52 252.00,642.55 252.80,641.20 253.60,639.40 254.40,637.60 255.20,635.80 256.00,634.00 256.80,634.55 257.60,635.50 258.40,635.23 259.20,633.27 260.00,633.00 260.72,632.58 261.43,630.60 262.15,632.75 262.87,632.62 263.58,630.24 264.30,629.80 265.06,629.89 265.81,629.99 266.57,630.08 267.32,630.18 268.08,630.27 268.83,630.37 269.59,630.46 270.34,630.56 271.10,630.65 271.85,630.75 272.61,630.84 273.36,630.94 274.12,631.03 274.87,631.13 275.63,631.22 276.38,631.32 277.14,631.41 277.89,631.51 278.65,631.60 279.40,631.70 280.16,631.79 280.91,631.89 281.67,631.98 282.42,632.08 283.18,632.17 283.93,632.27 284.69,632.36 285.44,632.46 286.20,632.55 286.96,632.64 287.71,632.74 288.47,632.83 289.22,632.93 289.98,633.02 290.73,633.12 291.49,633.21 292.24,633.31 293.00,633.40 293.75,633.50 294.51,633.59 295.26,633.69 296.02,633.78 296.77,633.88 297.53,633.97 298.28,634.07 299.04,634.16 299.79,634.26 300.55,634.35 301.30,634.45 302.06,634.54 302.81,634.64 303.57,634.73 304.32,634.83 305.08,634.92 305.83,635.02 306.59,635.11 307.34,635.21 308.10,635.30 308.82,636.43 309.54,636.42 310.25,636.29 310.97,632.17 311.69,636.22 312.41,634.61 313.13,635.00 313.85,633.07 314.56,634.28 315.28,635.13 316.00,633.00 316.78,634.19 317.56,634.95 318.35,629.49 319.13,630.64 319.91,632.98 320.69,634.75 321.47,631.39 322.25,635.21 323.04,634.87 323.82,630.24 324.60,634.00 325.22,633.68 325.83,629.68 326.45,626.92 327.07,628.44 327.68,631.73 328.30,629.59 328.92,629.95 329.53,627.44 330.15,634.91 330.77,633.63 331.38,637.73 332.00,636.00 332.50,637.03 333.00,635.00 333.59,630.60 334.19,641.96 334.78,626.67 335.38,633.60 335.97,631.50 336.57,633.79 337.16,628.82 337.76,641.05 338.35,633.33 338.95,627.64 339.54,637.51 340.14,628.74 340.73,636.45 341.33,633.01 341.92,637.16 342.52,643.63 343.11,641.31 343.71,634.57 344.30,636.00 345.10,632.35 345.90,628.70 346.67,626.21 347.45,623.44 348.23,620.60 349.00,618.00 349.70,616.75 350.40,615.98 351.10,614.92 351.80,614.11 352.50,612.80 353.32,616.03 354.15,618.77 354.98,621.56 355.80,624.60 356.60,629.24 357.40,633.10 358.20,637.80 359.03,635.07 359.87,632.33 360.70,629.60 361.52,625.39 362.35,631.37 363.17,632.46 363.99,627.26 364.82,633.62 365.64,637.25 366.46,631.56 367.28,632.72 368.11,630.75 368.93,632.02 369.75,640.68 370.58,634.07 371.40,636.00 372.00,643.50 372.70,640.72 373.40,637.94 374.10,635.16 374.80,632.38 375.50,629.60 376.20,627.83 376.90,625.56 377.60,623.01 378.30,620.45 379.00,618.94 379.70,616.22 380.40,614.00 381.21,613.78 382.03,613.49 382.84,617.76 383.66,615.09 384.47,614.15 385.29,615.58 386.10,616.00 386.93,621.22 387.77,627.32 388.60,632.80 389.40,634.90 390.20,637.00 391.02,635.75 391.85,634.50 392.68,633.25 393.50,632.00 394.20,631.71 394.90,631.34 395.60,631.60 396.30,631.41 397.00,630.37 397.70,630.66 398.40,630.40 399.20,630.66 400.00,632.00 400.87,630.00 401.73,628.00 402.60,626.00 403.00,637.00 403.50,632.00 404.27,632.95 405.05,632.49 405.82,631.12 406.59,631.08 407.36,630.72 408.14,632.63 408.91,630.87 409.68,631.53 410.45,631.12 411.23,631.44 412.00,631.00 412.73,631.20 413.45,631.49 414.18,629.95 414.91,631.44 415.64,630.29 416.36,630.81 417.09,630.29 417.82,630.15 418.55,630.66 419.27,630.46 420.00,630.50 420.73,630.30 421.45,631.36 422.18,631.13 422.91,629.93 423.64,630.59 424.36,631.21 425.09,632.45 425.82,632.52 426.55,631.84 427.27,630.70 428.00,632.00 428.76,633.24 429.51,633.84 430.27,634.95 431.03,636.04 431.79,636.92 432.54,637.72 433.30,638.70 434.08,637.58 434.87,635.71 435.65,634.26 436.43,633.18 437.22,631.21 438.00,630.00 438.71,628.45 439.43,627.34 440.14,625.45 440.86,624.49 441.57,622.97 442.29,621.39 443.00,620.00 443.71,619.10 444.43,618.63 445.14,617.93 445.86,616.70 446.57,616.13 447.29,615.40 448.00,614.60 448.75,615.70 449.50,616.70 450.25,617.69 451.00,619.00 451.78,620.95 452.56,622.99 453.34,624.44 454.12,626.44 454.90,628.50 455.63,628.98 456.36,629.25 457.09,629.46 457.81,629.36 458.54,630.06 459.27,630.50 460.00,630.50 460.87,630.93 461.73,630.89 462.60,630.90 463.40,637.27 464.20,643.63 465.00,650.00 465.50,626.00 466.20,650.00 466.80,627.00 467.40,650.00 468.20,631.00 469.30,630.90 470.03,630.88 470.75,630.85 471.48,630.83 472.20,630.80 472.93,630.77 473.65,630.75 474.38,630.73 475.10,630.70 475.80,629.08 476.50,627.45 477.20,625.83 477.90,624.20 478.62,621.83 479.35,619.45 480.07,617.08 480.80,614.70 481.52,613.25 482.25,611.80 482.98,610.35 483.70,608.90 484.33,606.37 484.97,603.83 485.60,601.30 486.50,584.10 487.00,626.10 487.60,590.00 488.40,576.30 488.90,618.50 489.60,588.00 490.20,587.95 490.80,587.90 491.80,583.20 492.50,588.45 493.20,593.70 494.20,631.90 495.10,649.10 495.73,645.27 496.37,641.43 497.00,637.60 497.73,635.92 498.45,634.25 499.17,632.58 499.90,630.90 500.70,630.40 501.50,630.64 502.30,630.03 503.10,630.05 503.90,630.00 504.70,629.50 505.46,629.41 506.21,628.85 506.97,628.73 507.73,628.89 508.49,628.22 509.24,628.28 510.00,628.00 510.74,627.83 511.49,627.57 512.23,627.73 512.97,627.27 513.71,627.19 514.46,627.24 515.20,627.20 516.00,627.08 516.80,627.20 517.60,627.65 518.40,627.88 519.20,628.09 520.00,628.00 520.80,628.08 521.60,628.56 522.40,628.79 523.20,629.26 524.00,629.50 524.87,630.33 525.73,631.43 526.60,632.00 527.33,631.33 528.07,629.11 528.80,634.58 529.53,630.54 530.27,634.72 531.00,634.00 531.71,634.19 532.43,637.57 533.14,634.87 533.86,635.54 534.57,632.82 535.29,635.27 536.00,635.00 536.79,633.14 537.58,637.23 538.37,635.47 539.16,632.51 539.94,633.43 540.73,634.64 541.52,637.67 542.31,633.32 543.10,636.00 543.73,634.00 544.37,632.00 545.00,630.00 545.60,620.00 546.20,610.00 546.95,607.20 547.70,604.40 548.45,608.20 549.20,612.00 549.85,623.50 550.50,635.00 551.25,639.75 552.00,644.50 552.67,643.00 553.33,641.50 554.00,640.00 554.67,638.00 555.33,636.00 556.00,634.00 556.72,633.46 557.44,632.92 558.16,632.38 558.88,631.84 559.60,631.30 560.31,631.15 561.02,630.84 561.73,630.22 562.44,630.29 563.16,629.67 563.87,629.41 564.58,629.41 565.29,628.92 566.00,628.80 566.74,629.49 567.47,628.79 568.21,628.51 568.95,629.38 569.68,628.01 570.42,629.27 571.16,628.07 571.89,628.26 572.63,629.71 573.37,629.23 574.11,628.42 574.84,628.24 575.58,629.79 576.32,629.24 577.05,629.53 577.79,628.32 578.53,629.20 579.26,628.73 580.00,629.00 580.74,628.54 581.48,628.74 582.22,629.26 582.96,628.80 583.70,628.89 584.44,628.46 585.19,629.73 585.93,629.41 586.67,629.71 587.41,629.07 588.15,629.84 588.89,629.25 589.63,629.41 590.37,629.39 591.11,629.71 591.85,629.11 592.59,628.59 593.33,628.49 594.07,628.82 594.81,628.54 595.56,630.09 596.30,629.37 597.04,629.89 597.78,628.55 598.52,629.41 599.26,630.18 600.00,629.50 600.76,629.73 601.52,629.41 602.28,629.49 603.03,628.85 603.79,628.96 604.55,628.99 605.31,629.40 606.07,629.43 606.83,630.34 607.59,629.05 608.34,629.25 609.10,629.31 609.86,629.11 610.62,629.36 611.38,629.28 612.14,629.74 612.90,628.95 613.66,630.57 614.41,629.59 615.17,630.63 615.93,630.20 616.69,630.19 617.45,629.85 618.21,630.72 618.97,629.24 619.72,630.25 620.48,629.59 621.24,630.30 622.00,630.00" fill="none" stroke="#5b9bd5" stroke-width="1.0" stroke-linejoin="round"/>
<text x="45.70" y="649.00" font-size="9.3" fill="#595959" text-anchor="middle">4,4</text>
<text x="117.80" y="649.00" font-size="9.3" fill="#595959" text-anchor="middle">3,9</text>
<text x="189.90" y="649.00" font-size="9.3" fill="#595959" text-anchor="middle">3,4</text>
<text x="262.00" y="649.00" font-size="9.3" fill="#595959" text-anchor="middle">2,9</text>
<text x="334.10" y="649.00" font-size="9.3" fill="#595959" text-anchor="middle">2,4</text>
<text x="406.20" y="649.00" font-size="9.3" fill="#595959" text-anchor="middle">1,9</text>
<text x="478.30" y="649.00" font-size="9.3" fill="#595959" text-anchor="middle">1,4</text>
<text x="550.40" y="649.00" font-size="9.3" fill="#595959" text-anchor="middle">0,9</text>
<text x="622.50" y="649.00" font-size="9.3" fill="#595959" text-anchor="middle">0,4</text>
<text x="55.50" y="593.60" font-size="12.1" fill="#1e1e1e" textLength="37.70" lengthAdjust="spacingAndGlyphs" stroke="#1e1e1e" stroke-width="0.2">Lactate</text>
<text x="23.40" y="678.70" font-size="12.1" fill="#1e1e1e" textLength="73.50" lengthAdjust="spacingAndGlyphs" stroke="#1e1e1e" stroke-width="0.2">Anserine+ glx</text>
<text x="109.30" y="685.30" font-size="12.1" fill="#1e1e1e" textLength="39.90" lengthAdjust="spacingAndGlyphs" stroke="#1e1e1e" stroke-width="0.2">Glycine</text>
<text x="159.30" y="708.70" font-size="12.1" fill="#1e1e1e" textLength="41.10" lengthAdjust="spacingAndGlyphs" stroke="#1e1e1e" stroke-width="0.2">Taurine</text>
<text x="217.80" y="707.20" font-size="12.1" fill="#1e1e1e" textLength="46.20" lengthAdjust="spacingAndGlyphs" stroke="#1e1e1e" stroke-width="0.2">Cholines</text>
<text x="276.60" y="693.70" font-size="12.1" fill="#1e1e1e" textLength="56.70" lengthAdjust="spacingAndGlyphs" stroke="#1e1e1e" stroke-width="0.2">Glutamine</text>
<text x="358.10" y="690.70" font-size="12.1" fill="#1e1e1e" textLength="58.20" lengthAdjust="spacingAndGlyphs" stroke="#1e1e1e" stroke-width="0.2">Glutamate</text>
<text x="430.60" y="690.70" font-size="12.1" fill="#1e1e1e" textLength="20.90" lengthAdjust="spacingAndGlyphs" stroke="#1e1e1e" stroke-width="0.2">GLX</text>
<text x="317.50" y="584.10" font-size="12.1" fill="#1e1e1e" textLength="76.20" lengthAdjust="spacingAndGlyphs" stroke="#1e1e1e" stroke-width="0.2">FA (-CH2COO)</text>
<text x="352.60" y="601.90" font-size="12.1" fill="#1e1e1e" textLength="115.70" lengthAdjust="spacingAndGlyphs" stroke="#1e1e1e" stroke-width="0.2">FA (-CH2CH=CHCH2-)</text>
<text x="435.80" y="575.70" font-size="12.1" fill="#1e1e1e" textLength="37.60" lengthAdjust="spacingAndGlyphs" stroke="#1e1e1e" stroke-width="0.2">Lactate</text>
<text x="522.70" y="581.00" font-size="12.1" fill="#1e1e1e" textLength="13.20" lengthAdjust="spacingAndGlyphs" stroke="#1e1e1e" stroke-width="0.2">FA</text>
<line x1="76.40" y1="597.20" x2="79.23" y2="605.86" stroke="#5b9bd5" stroke-width="1.55"/>
<polygon points="81.50,612.80 75.50,606.03 82.34,603.79" fill="#5b9bd5"/>
<line x1="95.70" y1="665.50" x2="122.53" y2="658.53" stroke="#5b9bd5" stroke-width="1.55"/>
<polygon points="129.60,656.70 122.47,662.27 120.66,655.30" fill="#5b9bd5"/>
<line x1="149.90" y1="675.10" x2="157.16" y2="673.54" stroke="#5b9bd5" stroke-width="1.55"/>
<polygon points="164.30,672.00 156.94,677.27 155.43,670.23" fill="#5b9bd5"/>
<line x1="191.50" y1="694.30" x2="189.30" y2="692.22" stroke="#5b9bd5" stroke-width="1.55"/>
<polygon points="184.00,687.20 192.50,690.29 187.55,695.52" fill="#5b9bd5"/>
<line x1="191.50" y1="694.30" x2="199.71" y2="690.72" stroke="#5b9bd5" stroke-width="1.55"/>
<polygon points="206.40,687.80 200.23,694.42 197.35,687.82" fill="#5b9bd5"/>
<line x1="240.70" y1="689.30" x2="223.38" y2="670.74" stroke="#5b9bd5" stroke-width="1.55"/>
<polygon points="218.40,665.40 226.69,669.01 221.43,673.92" fill="#5b9bd5"/>
<line x1="305.20" y1="676.40" x2="317.05" y2="655.92" stroke="#5b9bd5" stroke-width="1.55"/>
<polygon points="320.70,649.60 319.66,658.59 313.43,654.98" fill="#5b9bd5"/>
<line x1="334.50" y1="589.90" x2="343.67" y2="602.33" stroke="#5b9bd5" stroke-width="1.55"/>
<polygon points="348.00,608.20 340.18,603.66 345.97,599.38" fill="#5b9bd5"/>
<line x1="407.90" y1="605.70" x2="398.55" y2="611.00" stroke="#5b9bd5" stroke-width="1.55"/>
<polygon points="392.20,614.60 397.65,607.38 401.20,613.64" fill="#5b9bd5"/>
<line x1="387.00" y1="672.80" x2="354.31" y2="651.49" stroke="#5b9bd5" stroke-width="1.55"/>
<polygon points="348.20,647.50 357.12,649.02 353.19,655.05" fill="#5b9bd5"/>
<line x1="442.50" y1="673.40" x2="390.12" y2="651.24" stroke="#5b9bd5" stroke-width="1.55"/>
<polygon points="383.40,648.40 392.45,648.32 389.64,654.95" fill="#5b9bd5"/>
<line x1="456.40" y1="578.90" x2="470.01" y2="583.00" stroke="#5b9bd5" stroke-width="1.55"/>
<polygon points="477.00,585.10 468.01,586.16 470.09,579.26" fill="#5b9bd5"/>
<line x1="533.00" y1="583.60" x2="463.60" y2="613.70" stroke="#5b9bd5" stroke-width="1.55"/>
<polygon points="456.90,616.60 463.08,610.00 465.95,616.60" fill="#5b9bd5"/>
<line x1="533.00" y1="583.60" x2="509.21" y2="591.74" stroke="#5b9bd5" stroke-width="1.55"/>
<polygon points="502.30,594.10 508.99,588.01 511.32,594.82" fill="#5b9bd5"/>
<line x1="533.00" y1="583.60" x2="537.71" y2="590.32" stroke="#5b9bd5" stroke-width="1.55"/>
<polygon points="541.90,596.30 534.19,591.57 540.08,587.44" fill="#5b9bd5"/>
<line x1="64.40" y1="908.25" x2="651.00" y2="908.25" stroke="#d9d9d9" stroke-width="1.0"/>
<text x="54.30" y="911.65" font-size="9.6" fill="#595959" text-anchor="end">0</text>
<line x1="64.40" y1="889.57" x2="651.00" y2="889.57" stroke="#d9d9d9" stroke-width="1.0"/>
<text x="54.30" y="892.97" font-size="9.6" fill="#595959" text-anchor="end">100</text>
<line x1="64.40" y1="870.89" x2="651.00" y2="870.89" stroke="#d9d9d9" stroke-width="1.0"/>
<text x="54.30" y="874.29" font-size="9.6" fill="#595959" text-anchor="end">200</text>
<line x1="64.40" y1="852.22" x2="651.00" y2="852.22" stroke="#d9d9d9" stroke-width="1.0"/>
<text x="54.30" y="855.62" font-size="9.6" fill="#595959" text-anchor="end">300</text>
<line x1="64.40" y1="833.54" x2="651.00" y2="833.54" stroke="#d9d9d9" stroke-width="1.0"/>
<text x="54.30" y="836.94" font-size="9.6" fill="#595959" text-anchor="end">400</text>
<line x1="64.40" y1="814.86" x2="651.00" y2="814.86" stroke="#d9d9d9" stroke-width="1.0"/>
<text x="54.30" y="818.26" font-size="9.6" fill="#595959" text-anchor="end">500</text>
<line x1="64.40" y1="796.18" x2="651.00" y2="796.18" stroke="#d9d9d9" stroke-width="1.0"/>
<text x="54.30" y="799.58" font-size="9.6" fill="#595959" text-anchor="end">600</text>
<line x1="124.20" y1="777.50" x2="651.00" y2="777.50" stroke="#d9d9d9" stroke-width="1.0"/>
<text x="54.30" y="780.90" font-size="9.6" fill="#595959" text-anchor="end">700</text>
<line x1="124.20" y1="758.83" x2="651.00" y2="758.83" stroke="#d9d9d9" stroke-width="1.0"/>
<text x="54.30" y="762.23" font-size="9.6" fill="#595959" text-anchor="end">800</text>
<line x1="64.40" y1="740.15" x2="651.00" y2="740.15" stroke="#d9d9d9" stroke-width="1.0"/>
<text x="54.30" y="743.55" font-size="9.6" fill="#595959" text-anchor="end">900</text>
<text x="21.40" y="844.40" font-size="11.3" fill="#595959" text-anchor="middle" textLength="121.70" lengthAdjust="spacingAndGlyphs" transform="rotate(-90 21.40 844.40)">Metabolic Intensity (AU)</text>
<rect x="75.80" y="879.86" width="10.0" height="28.39" fill="#000000"/>
<rect x="88.85" y="893.12" width="10.0" height="15.13" fill="#00b050"/>
<rect x="101.90" y="902.27" width="10.0" height="5.98" fill="#ff0000"/>
<line x1="80.80" y1="871.08" x2="80.80" y2="888.64" stroke="#595959" stroke-width="0.9"/>
<line x1="77.80" y1="871.08" x2="83.80" y2="871.08" stroke="#595959" stroke-width="0.9"/>
<line x1="77.80" y1="888.64" x2="83.80" y2="888.64" stroke="#595959" stroke-width="0.9"/>
<line x1="93.85" y1="890.51" x2="93.85" y2="895.74" stroke="#595959" stroke-width="0.9"/>
<line x1="90.85" y1="890.51" x2="96.85" y2="890.51" stroke="#595959" stroke-width="0.9"/>
<line x1="90.85" y1="895.74" x2="96.85" y2="895.74" stroke="#595959" stroke-width="0.9"/>
<line x1="106.90" y1="900.59" x2="106.90" y2="903.95" stroke="#595959" stroke-width="0.9"/>
<line x1="103.90" y1="900.59" x2="109.90" y2="900.59" stroke="#595959" stroke-width="0.9"/>
<line x1="103.90" y1="903.95" x2="109.90" y2="903.95" stroke="#595959" stroke-width="0.9"/>
<text x="93.80" y="926.40" font-size="10.0" fill="#595959" text-anchor="middle" textLength="36.30" lengthAdjust="spacingAndGlyphs">Glucose</text>
<rect x="134.44" y="902.27" width="10.0" height="5.98" fill="#000000"/>
<rect x="147.49" y="896.30" width="10.0" height="11.95" fill="#00b050"/>
<rect x="160.54" y="889.20" width="10.0" height="19.05" fill="#ff0000"/>
<line x1="139.44" y1="900.59" x2="139.44" y2="903.95" stroke="#595959" stroke-width="0.9"/>
<line x1="136.44" y1="900.59" x2="142.44" y2="900.59" stroke="#595959" stroke-width="0.9"/>
<line x1="136.44" y1="903.95" x2="142.44" y2="903.95" stroke="#595959" stroke-width="0.9"/>
<line x1="152.49" y1="895.18" x2="152.49" y2="897.42" stroke="#595959" stroke-width="0.9"/>
<line x1="149.49" y1="895.18" x2="155.49" y2="895.18" stroke="#595959" stroke-width="0.9"/>
<line x1="149.49" y1="897.42" x2="155.49" y2="897.42" stroke="#595959" stroke-width="0.9"/>
<line x1="165.54" y1="886.21" x2="165.54" y2="892.19" stroke="#595959" stroke-width="0.9"/>
<line x1="162.54" y1="886.21" x2="168.54" y2="886.21" stroke="#595959" stroke-width="0.9"/>
<line x1="162.54" y1="892.19" x2="168.54" y2="892.19" stroke="#595959" stroke-width="0.9"/>
<text x="152.44" y="926.40" font-size="10.0" fill="#595959" text-anchor="middle" textLength="33.50" lengthAdjust="spacingAndGlyphs">Lactate</text>
<rect x="193.08" y="900.97" width="10.0" height="7.28" fill="#000000"/>
<rect x="206.13" y="873.70" width="10.0" height="34.55" fill="#00b050"/>
<rect x="219.18" y="883.41" width="10.0" height="24.84" fill="#ff0000"/>
<line x1="198.08" y1="898.16" x2="198.08" y2="903.77" stroke="#595959" stroke-width="0.9"/>
<line x1="195.08" y1="898.16" x2="201.08" y2="898.16" stroke="#595959" stroke-width="0.9"/>
<line x1="195.08" y1="903.77" x2="201.08" y2="903.77" stroke="#595959" stroke-width="0.9"/>
<line x1="211.13" y1="869.21" x2="211.13" y2="878.18" stroke="#595959" stroke-width="0.9"/>
<line x1="208.13" y1="869.21" x2="214.13" y2="869.21" stroke="#595959" stroke-width="0.9"/>
<line x1="208.13" y1="878.18" x2="214.13" y2="878.18" stroke="#595959" stroke-width="0.9"/>
<line x1="224.18" y1="874.63" x2="224.18" y2="892.19" stroke="#595959" stroke-width="0.9"/>
<line x1="221.18" y1="874.63" x2="227.18" y2="874.63" stroke="#595959" stroke-width="0.9"/>
<line x1="221.18" y1="892.19" x2="227.18" y2="892.19" stroke="#595959" stroke-width="0.9"/>
<text x="211.08" y="926.40" font-size="10.0" fill="#595959" text-anchor="middle" textLength="34.00" lengthAdjust="spacingAndGlyphs">Alanine</text>
<rect x="251.72" y="880.23" width="10.0" height="28.02" fill="#000000"/>
<rect x="264.77" y="858.94" width="10.0" height="49.31" fill="#00b050"/>
<rect x="277.82" y="860.06" width="10.0" height="48.19" fill="#ff0000"/>
<line x1="256.72" y1="870.33" x2="256.72" y2="890.13" stroke="#595959" stroke-width="0.9"/>
<line x1="253.72" y1="870.33" x2="259.72" y2="870.33" stroke="#595959" stroke-width="0.9"/>
<line x1="253.72" y1="890.13" x2="259.72" y2="890.13" stroke="#595959" stroke-width="0.9"/>
<line x1="269.77" y1="853.90" x2="269.77" y2="863.98" stroke="#595959" stroke-width="0.9"/>
<line x1="266.77" y1="853.90" x2="272.77" y2="853.90" stroke="#595959" stroke-width="0.9"/>
<line x1="266.77" y1="863.98" x2="272.77" y2="863.98" stroke="#595959" stroke-width="0.9"/>
<line x1="282.82" y1="849.60" x2="282.82" y2="870.52" stroke="#595959" stroke-width="0.9"/>
<line x1="279.82" y1="849.60" x2="285.82" y2="849.60" stroke="#595959" stroke-width="0.9"/>
<line x1="279.82" y1="870.52" x2="285.82" y2="870.52" stroke="#595959" stroke-width="0.9"/>
<text x="269.72" y="926.40" font-size="10.0" fill="#595959" text-anchor="middle" textLength="33.50" lengthAdjust="spacingAndGlyphs">Glycine</text>
<rect x="310.36" y="872.01" width="10.0" height="36.24" fill="#000000"/>
<rect x="323.41" y="825.13" width="10.0" height="83.12" fill="#00b050"/>
<rect x="336.46" y="843.06" width="10.0" height="65.19" fill="#ff0000"/>
<line x1="315.36" y1="864.17" x2="315.36" y2="879.86" stroke="#595959" stroke-width="0.9"/>
<line x1="312.36" y1="864.17" x2="318.36" y2="864.17" stroke="#595959" stroke-width="0.9"/>
<line x1="312.36" y1="879.86" x2="318.36" y2="879.86" stroke="#595959" stroke-width="0.9"/>
<line x1="328.41" y1="821.21" x2="328.41" y2="829.06" stroke="#595959" stroke-width="0.9"/>
<line x1="325.41" y1="821.21" x2="331.41" y2="821.21" stroke="#595959" stroke-width="0.9"/>
<line x1="325.41" y1="829.06" x2="331.41" y2="829.06" stroke="#595959" stroke-width="0.9"/>
<line x1="341.46" y1="836.34" x2="341.46" y2="849.79" stroke="#595959" stroke-width="0.9"/>
<line x1="338.46" y1="836.34" x2="344.46" y2="836.34" stroke="#595959" stroke-width="0.9"/>
<line x1="338.46" y1="849.79" x2="344.46" y2="849.79" stroke="#595959" stroke-width="0.9"/>
<text x="328.36" y="926.40" font-size="10.0" fill="#595959" text-anchor="middle" textLength="34.70" lengthAdjust="spacingAndGlyphs">Taurine</text>
<rect x="369.00" y="842.32" width="10.0" height="65.93" fill="#000000"/>
<rect x="382.05" y="867.91" width="10.0" height="40.34" fill="#00b050"/>
<rect x="395.10" y="866.22" width="10.0" height="42.03" fill="#ff0000"/>
<line x1="374.00" y1="833.91" x2="374.00" y2="850.72" stroke="#595959" stroke-width="0.9"/>
<line x1="371.00" y1="833.91" x2="377.00" y2="833.91" stroke="#595959" stroke-width="0.9"/>
<line x1="371.00" y1="850.72" x2="377.00" y2="850.72" stroke="#595959" stroke-width="0.9"/>
<line x1="387.05" y1="864.36" x2="387.05" y2="871.45" stroke="#595959" stroke-width="0.9"/>
<line x1="384.05" y1="864.36" x2="390.05" y2="864.36" stroke="#595959" stroke-width="0.9"/>
<line x1="384.05" y1="871.45" x2="390.05" y2="871.45" stroke="#595959" stroke-width="0.9"/>
<line x1="400.10" y1="859.69" x2="400.10" y2="872.76" stroke="#595959" stroke-width="0.9"/>
<line x1="397.10" y1="859.69" x2="403.10" y2="859.69" stroke="#595959" stroke-width="0.9"/>
<line x1="397.10" y1="872.76" x2="403.10" y2="872.76" stroke="#595959" stroke-width="0.9"/>
<text x="387.00" y="926.40" font-size="10.0" fill="#595959" text-anchor="middle" textLength="49.40" lengthAdjust="spacingAndGlyphs">Fatty Acids</text>
<rect x="427.64" y="892.00" width="10.0" height="16.25" fill="#000000"/>
<rect x="440.69" y="882.47" width="10.0" height="25.78" fill="#00b050"/>
<rect x="453.74" y="884.72" width="10.0" height="23.53" fill="#ff0000"/>
<line x1="432.64" y1="886.02" x2="432.64" y2="897.98" stroke="#595959" stroke-width="0.9"/>
<line x1="429.64" y1="886.02" x2="435.64" y2="886.02" stroke="#595959" stroke-width="0.9"/>
<line x1="429.64" y1="897.98" x2="435.64" y2="897.98" stroke="#595959" stroke-width="0.9"/>
<line x1="445.69" y1="879.49" x2="445.69" y2="885.46" stroke="#595959" stroke-width="0.9"/>
<line x1="442.69" y1="879.49" x2="448.69" y2="879.49" stroke="#595959" stroke-width="0.9"/>
<line x1="442.69" y1="885.46" x2="448.69" y2="885.46" stroke="#595959" stroke-width="0.9"/>
<line x1="458.74" y1="878.18" x2="458.74" y2="891.25" stroke="#595959" stroke-width="0.9"/>
<line x1="455.74" y1="878.18" x2="461.74" y2="878.18" stroke="#595959" stroke-width="0.9"/>
<line x1="455.74" y1="891.25" x2="461.74" y2="891.25" stroke="#595959" stroke-width="0.9"/>
<text x="445.64" y="926.40" font-size="10.0" fill="#595959" text-anchor="middle" textLength="48.10" lengthAdjust="spacingAndGlyphs">Glutamate</text>
<rect x="486.28" y="901.34" width="10.0" height="6.91" fill="#000000"/>
<rect x="499.33" y="890.13" width="10.0" height="18.12" fill="#00b050"/>
<rect x="512.38" y="889.39" width="10.0" height="18.86" fill="#ff0000"/>
<line x1="491.28" y1="897.04" x2="491.28" y2="905.64" stroke="#595959" stroke-width="0.9"/>
<line x1="488.28" y1="897.04" x2="494.28" y2="897.04" stroke="#595959" stroke-width="0.9"/>
<line x1="488.28" y1="905.64" x2="494.28" y2="905.64" stroke="#595959" stroke-width="0.9"/>
<line x1="504.33" y1="888.08" x2="504.33" y2="892.19" stroke="#595959" stroke-width="0.9"/>
<line x1="501.33" y1="888.08" x2="507.33" y2="888.08" stroke="#595959" stroke-width="0.9"/>
<line x1="501.33" y1="892.19" x2="507.33" y2="892.19" stroke="#595959" stroke-width="0.9"/>
<line x1="517.38" y1="884.53" x2="517.38" y2="894.24" stroke="#595959" stroke-width="0.9"/>
<line x1="514.38" y1="884.53" x2="520.38" y2="884.53" stroke="#595959" stroke-width="0.9"/>
<line x1="514.38" y1="894.24" x2="520.38" y2="894.24" stroke="#595959" stroke-width="0.9"/>
<text x="504.28" y="926.40" font-size="10.0" fill="#595959" text-anchor="middle" textLength="46.60" lengthAdjust="spacingAndGlyphs">Glutamine</text>
<rect x="544.92" y="821.58" width="10.0" height="86.67" fill="#000000"/>
<rect x="557.97" y="767.60" width="10.0" height="140.65" fill="#00b050"/>
<rect x="571.02" y="794.13" width="10.0" height="114.12" fill="#ff0000"/>
<line x1="549.92" y1="803.65" x2="549.92" y2="839.51" stroke="#595959" stroke-width="0.9"/>
<line x1="546.92" y1="803.65" x2="552.92" y2="803.65" stroke="#595959" stroke-width="0.9"/>
<line x1="546.92" y1="839.51" x2="552.92" y2="839.51" stroke="#595959" stroke-width="0.9"/>
<line x1="562.97" y1="753.04" x2="562.97" y2="782.17" stroke="#595959" stroke-width="0.9"/>
<line x1="559.97" y1="753.04" x2="565.97" y2="753.04" stroke="#595959" stroke-width="0.9"/>
<line x1="559.97" y1="782.17" x2="565.97" y2="782.17" stroke="#595959" stroke-width="0.9"/>
<line x1="576.02" y1="781.61" x2="576.02" y2="806.64" stroke="#595959" stroke-width="0.9"/>
<line x1="573.02" y1="781.61" x2="579.02" y2="781.61" stroke="#595959" stroke-width="0.9"/>
<line x1="573.02" y1="806.64" x2="579.02" y2="806.64" stroke="#595959" stroke-width="0.9"/>
<text x="562.92" y="926.40" font-size="10.0" fill="#595959" text-anchor="middle" textLength="19.80" lengthAdjust="spacingAndGlyphs">GPC</text>
<rect x="603.56" y="880.79" width="10.0" height="27.46" fill="#000000"/>
<rect x="616.61" y="861.18" width="10.0" height="47.07" fill="#00b050"/>
<rect x="629.66" y="875.19" width="10.0" height="33.06" fill="#ff0000"/>
<line x1="608.56" y1="875.19" x2="608.56" y2="886.40" stroke="#595959" stroke-width="0.9"/>
<line x1="605.56" y1="875.19" x2="611.56" y2="875.19" stroke="#595959" stroke-width="0.9"/>
<line x1="605.56" y1="886.40" x2="611.56" y2="886.40" stroke="#595959" stroke-width="0.9"/>
<line x1="621.61" y1="855.20" x2="621.61" y2="867.16" stroke="#595959" stroke-width="0.9"/>
<line x1="618.61" y1="855.20" x2="624.61" y2="855.20" stroke="#595959" stroke-width="0.9"/>
<line x1="618.61" y1="867.16" x2="624.61" y2="867.16" stroke="#595959" stroke-width="0.9"/>
<line x1="634.66" y1="869.59" x2="634.66" y2="880.79" stroke="#595959" stroke-width="0.9"/>
<line x1="631.66" y1="869.59" x2="637.66" y2="869.59" stroke="#595959" stroke-width="0.9"/>
<line x1="631.66" y1="880.79" x2="637.66" y2="880.79" stroke="#595959" stroke-width="0.9"/>
<text x="621.56" y="926.40" font-size="10.0" fill="#595959" text-anchor="middle" textLength="12.20" lengthAdjust="spacingAndGlyphs">PC</text>
<text x="93.10" y="882.70" font-size="7.3" fill="#2a2a2a" text-anchor="middle" textLength="5.00" lengthAdjust="spacingAndGlyphs" stroke="#2a2a2a" stroke-width="0.25">&amp;</text>
<text x="110.20" y="892.10" font-size="6.9" fill="#2a2a2a" text-anchor="middle" textLength="11.25" lengthAdjust="spacingAndGlyphs" stroke="#2a2a2a" stroke-width="0.25">$$$</text>
<text x="110.20" y="900.50" font-size="9.2" fill="#2a2a2a" text-anchor="middle" textLength="11.10" lengthAdjust="spacingAndGlyphs" stroke="#2a2a2a" stroke-width="0.25">***</text>
<text x="148.40" y="888.90" font-size="7.3" fill="#2a2a2a" text-anchor="middle" textLength="15.00" lengthAdjust="spacingAndGlyphs" stroke="#2a2a2a" stroke-width="0.25">&amp;&amp;&amp;</text>
<text x="167.30" y="876.30" font-size="6.9" fill="#2a2a2a" text-anchor="middle" textLength="11.25" lengthAdjust="spacingAndGlyphs" stroke="#2a2a2a" stroke-width="0.25">$$$</text>
<text x="167.30" y="884.70" font-size="9.2" fill="#2a2a2a" text-anchor="middle" textLength="11.10" lengthAdjust="spacingAndGlyphs" stroke="#2a2a2a" stroke-width="0.25">***</text>
<text x="212.20" y="862.70" font-size="7.3" fill="#2a2a2a" text-anchor="middle" textLength="15.00" lengthAdjust="spacingAndGlyphs" stroke="#2a2a2a" stroke-width="0.25">&amp;&amp;&amp;</text>
<text x="224.70" y="869.80" font-size="6.9" fill="#2a2a2a" text-anchor="middle" textLength="11.25" lengthAdjust="spacingAndGlyphs" stroke="#2a2a2a" stroke-width="0.25">$$$</text>
<text x="269.20" y="851.20" font-size="7.3" fill="#2a2a2a" text-anchor="middle" textLength="15.00" lengthAdjust="spacingAndGlyphs" stroke="#2a2a2a" stroke-width="0.25">&amp;&amp;&amp;</text>
<text x="283.50" y="840.70" font-size="6.9" fill="#2a2a2a" text-anchor="middle" textLength="11.25" lengthAdjust="spacingAndGlyphs" stroke="#2a2a2a" stroke-width="0.25">$$$</text>
<text x="329.00" y="812.70" font-size="7.3" fill="#2a2a2a" text-anchor="middle" textLength="15.00" lengthAdjust="spacingAndGlyphs" stroke="#2a2a2a" stroke-width="0.25">&amp;&amp;&amp;</text>
<text x="343.00" y="826.90" font-size="6.9" fill="#2a2a2a" text-anchor="middle" textLength="11.25" lengthAdjust="spacingAndGlyphs" stroke="#2a2a2a" stroke-width="0.25">$$$</text>
<text x="343.00" y="835.50" font-size="9.2" fill="#2a2a2a" text-anchor="middle" textLength="11.10" lengthAdjust="spacingAndGlyphs" stroke="#2a2a2a" stroke-width="0.25">***</text>
<text x="388.00" y="854.10" font-size="7.3" fill="#2a2a2a" text-anchor="middle" textLength="15.00" lengthAdjust="spacingAndGlyphs" stroke="#2a2a2a" stroke-width="0.25">&amp;&amp;&amp;</text>
<text x="401.50" y="846.80" font-size="6.9" fill="#2a2a2a" text-anchor="middle" textLength="11.25" lengthAdjust="spacingAndGlyphs" stroke="#2a2a2a" stroke-width="0.25">$$$</text>
<text x="444.10" y="869.60" font-size="7.3" fill="#2a2a2a" text-anchor="middle" textLength="15.00" lengthAdjust="spacingAndGlyphs" stroke="#2a2a2a" stroke-width="0.25">&amp;&amp;&amp;</text>
<text x="460.10" y="874.70" font-size="6.9" fill="#2a2a2a" text-anchor="middle" textLength="3.75" lengthAdjust="spacingAndGlyphs" stroke="#2a2a2a" stroke-width="0.25">$</text>
<text x="504.10" y="879.20" font-size="7.3" fill="#2a2a2a" text-anchor="middle" textLength="15.00" lengthAdjust="spacingAndGlyphs" stroke="#2a2a2a" stroke-width="0.25">&amp;&amp;&amp;</text>
<text x="516.00" y="869.50" font-size="6.9" fill="#2a2a2a" text-anchor="middle" textLength="11.25" lengthAdjust="spacingAndGlyphs" stroke="#2a2a2a" stroke-width="0.25">$$$</text>
<text x="560.80" y="747.30" font-size="7.3" fill="#2a2a2a" text-anchor="middle" textLength="15.00" lengthAdjust="spacingAndGlyphs" stroke="#2a2a2a" stroke-width="0.25">&amp;&amp;&amp;</text>
<text x="576.40" y="770.80" font-size="6.9" fill="#2a2a2a" text-anchor="middle" textLength="3.75" lengthAdjust="spacingAndGlyphs" stroke="#2a2a2a" stroke-width="0.25">$</text>
<text x="576.40" y="780.50" font-size="9.2" fill="#2a2a2a" text-anchor="middle" textLength="3.70" lengthAdjust="spacingAndGlyphs" stroke="#2a2a2a" stroke-width="0.25">*</text>
<text x="621.00" y="850.90" font-size="7.3" fill="#2a2a2a" text-anchor="middle" textLength="15.00" lengthAdjust="spacingAndGlyphs" stroke="#2a2a2a" stroke-width="0.25">&amp;&amp;&amp;</text>
<text x="634.60" y="869.80" font-size="9.2" fill="#2a2a2a" text-anchor="middle" textLength="7.40" lengthAdjust="spacingAndGlyphs" stroke="#2a2a2a" stroke-width="0.25">**</text>
<rect x="66" y="742.5" width="57" height="42" fill="#fff"/>
<rect x="73.7" y="745.10" width="5.8" height="5.8" fill="#000000"/>
<text x="82.50" y="751.50" font-size="10.0" fill="#595959" textLength="22.60" lengthAdjust="spacingAndGlyphs">NMX</text>
<rect x="73.7" y="759.90" width="5.8" height="5.8" fill="#00b050"/>
<text x="82.50" y="766.30" font-size="10.0" fill="#595959" textLength="35.60" lengthAdjust="spacingAndGlyphs">HPX+SU</text>
<rect x="73.7" y="774.70" width="5.8" height="5.8" fill="#ff0000"/>
<text x="82.50" y="781.10" font-size="10.0" fill="#595959" textLength="18.30" lengthAdjust="spacingAndGlyphs">HPX</text>
</svg>
</body></html>
